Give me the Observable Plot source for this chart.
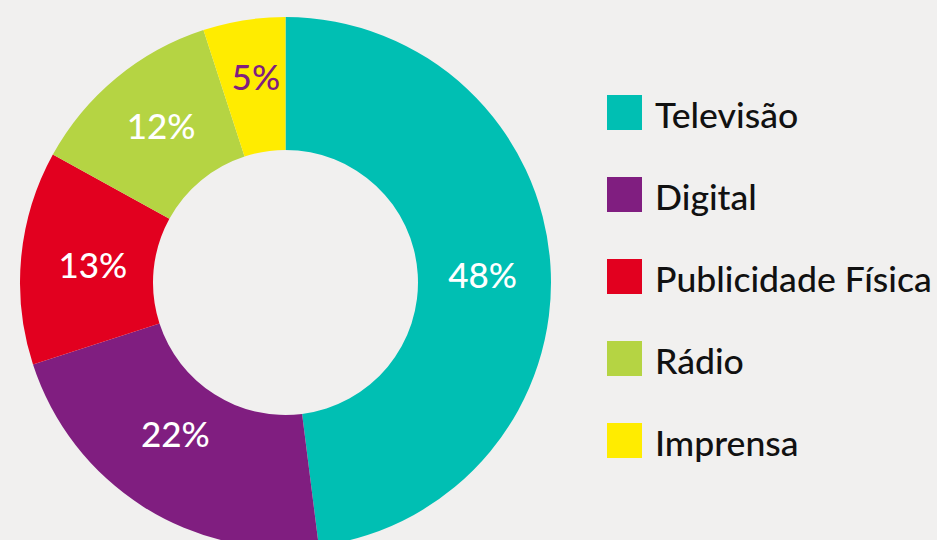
<!DOCTYPE html>
<html>
<head>
<meta charset="utf-8">
<script src="https://cdn.jsdelivr.net/npm/d3@7"></script>
<script src="https://cdn.jsdelivr.net/npm/@observablehq/plot@0.6"></script>
<style>
  html, body { margin: 0; padding: 0; background: #F1F0EF; width: 937px; height: 540px; overflow: hidden; }
  #chart { position: absolute; left: 0; top: 0; }
  #legend { position: absolute; left: 607px; top: 95px; font-family: Lato, "Noto Sans", sans-serif; }
  .item { position: absolute; left: 0; height: 35px; width: 330px; }
  .sw { position: absolute; left: 0; top: 0; width: 35px; height: 35px; }
  .lb { position: absolute; left: 48px; top: 2px; line-height: 35px; font-size: 35.6px; font-weight: 500; color: #111; white-space: nowrap; }
</style>
</head>
<body>
<div id="chart"></div>
<div id="legend"></div>
<script>
const categories = ["Televisão", "Digital", "Publicidade Física", "Rádio", "Imprensa"];
const values = [48, 22, 13, 12, 5];
const colors = ["#00BFB3", "#801E80", "#E2001F", "#B5D443", "#FFEC00"];
const labelColors = ["#FFFFFF", "#FFFFFF", "#FFFFFF", "#FFFFFF", "#801E80"];

// layout settings (pixels), separate from the data
const innerRatio = 132.5 / 265.5;
const cx = 285.5, cy = 282.5, R = 265.5;
const labelNudge = {"Televisão": [-2, 6.5], "Digital": [-4, -15], "Publicidade Física": [5, 3], "Rádio": [2, -1.5], "Imprensa": [1, -8]};

const table = categories.map((c, i) => ({category: c, value: values[i], color: colors[i], labelColor: labelColors[i]}));
const pie = d3.pie().sort(null).value(d => d.value)(table);
const unitArc = d3.arc().innerRadius(innerRatio).outerRadius(1);
const slices = pie.map(p => {
  const [ux, uy] = unitArc.centroid(p);
  const [nx, ny] = labelNudge[p.data.category] || [0, 0];
  return {...p.data, startAngle: p.startAngle, endAngle: p.endAngle, lx: ux + nx / R, ly: -(uy + ny / R), label: p.data.value + "%"};
});

function donut(index, scales) {
  const x0 = scales.x(0), y0 = scales.y(0);
  const r = scales.x(1) - scales.x(0);
  const arc = d3.arc().innerRadius(r * innerRatio).outerRadius(r);
  const g = d3.create("svg:g").attr("transform", `translate(${x0},${y0})`);
  g.selectAll("path").data(slices).join("path")
    .attr("d", d => arc(d))
    .attr("fill", d => d.color);
  return g.node();
}

const plot = Plot.plot({
  width: 937,
  height: 540,
  margin: 0,
  style: {background: "transparent", fontFamily: "Lato, 'Noto Sans', sans-serif"},
  x: {domain: [-1, 1], range: [cx - R, cx + R], axis: null},
  y: {domain: [-1, 1], range: [cy + R, cy - R], axis: null},
  marks: [
    donut,
    Plot.text(slices, {x: "lx", y: "ly", text: "label", fill: "labelColor", fontSize: 35, fontWeight: 500, fontFamily: "Lato", textAnchor: "middle", lineAnchor: "middle"})
  ]
});
document.getElementById("chart").appendChild(plot);

const legend = d3.select("#legend");
const items = legend.selectAll(".item").data(table).join("div")
  .attr("class", "item")
  .style("top", (d, i) => (i * 82) + "px");
items.append("div").attr("class", "sw").style("background", d => d.color);
items.append("div").attr("class", "lb").text(d => d.category);
</script>
</body>
</html>
